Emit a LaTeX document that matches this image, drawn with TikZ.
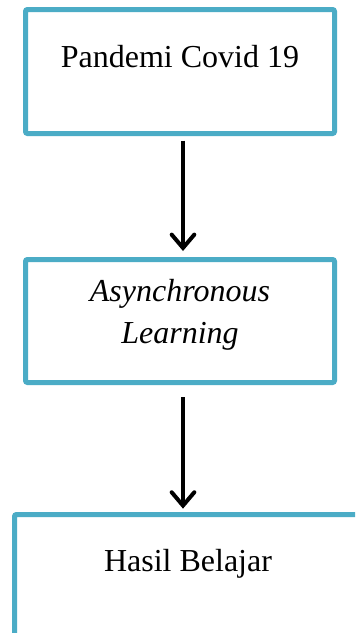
\documentclass[tikz,border=0pt]{standalone}
\usepackage{fontspec}
\setmainfont{Liberation Serif}
\usetikzlibrary{arrows.meta, positioning}
\definecolor{boxblue}{RGB}{75,172,198}

\tikzset{
    flowbox/.style={draw=boxblue, line width=3.75pt, rounded corners=1.5pt, rectangle, inner sep=0pt},
    boxtext/.style={font=\fontsize{24}{31}\selectfont, align=center, anchor=base},
    flowarrow/.style={-{Straight Barb[length=10pt, width=17pt, line cap=round]}, line width=3pt, black}
}

\begin{document}
\begin{tikzpicture}[x=0.75pt, y=-0.75pt]
    \clip (0,0) rectangle (355,633);
    \fill[white] (0,0) rectangle (355,633);

    % Kotak
    \node[flowbox, minimum width=231.75pt, minimum height=93pt] (covid) at (180,71.5) {};
    \node[flowbox, minimum width=231.75pt, minimum height=92.25pt] (async) at (180,321) {};
    \node[flowbox, minimum width=260.25pt, minimum height=93pt] (hasil) at (188,576.5) {};

    % Teks
    \node[boxtext] (covidtxt) at (180,67) {Pandemi Covid 19};
    \node[boxtext] (asynctxt) at (180,343) {\itshape Asynchronous\\\itshape Learning};
    \node[boxtext] (hasiltxt) at (188,571.5) {Hasil Belajar};

    % Panah
    \draw[flowarrow, shorten <=3.5pt, shorten >=4.5pt] ([xshift=2.25pt]covid.south) -- ([xshift=2.25pt]async.north);
    \draw[flowarrow, shorten <=9pt, shorten >=2.5pt] ([xshift=2.25pt]async.south) -- ([xshift=-3.75pt]hasil.north);
\end{tikzpicture}
\end{document}
